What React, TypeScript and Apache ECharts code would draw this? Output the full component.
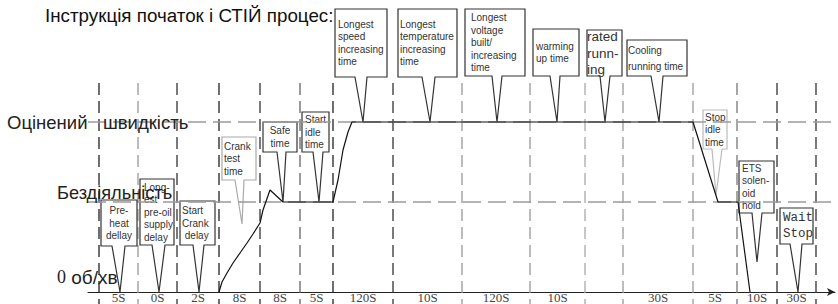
import React, { useEffect, useRef } from "react";
import * as echarts from "echarts";

// ---- data (diagram units: x = position along the time line, y = speed level) ----
const IDLE = 45;
const RATED = 85;

const boundaries = [11, 50, 89, 131, 172, 212, 245, 305, 374, 442, 497, 535, 605, 649, 689, 728];
const segmentLabels = ["5S", "0S", "2S", "8S", "8S", "5S", "120S", "10S", "120S", "10S", "", "30S", "5S", "10S", "30S"];

const speedCurve: [number, number][] = [
  [131, 0], [134, 5], [139, 9.5], [145, 14.5], [152, 19.5], [159, 24.5], [165, 29], [172, 34.5],
  [175, 41], [182, 51], [195, IDLE], [245, IDLE], [250, 56], [255, 71], [260, 80], [264, RATED],
  [605, RATED], [630, IDLE], [650, IDLE], [662, 0],
];

const calloutTexts = [
  "Pre-\nheat\ndellay",
  "Long-\nest\npre-oil\nsupply\ndelay",
  "Start\nCrank\n delay",
  "Crank\ntest\ntime",
  "Safe\ntime",
  "Start\nidle\ntime",
  "Longest\nspeed\nincreasing\ntime",
  "Longest\ntemperature\nincreasing\ntime",
  "Longest\nvoltage\nbuilt/\nincreasing\ntime",
  "warming\nup time",
  "rated\nrunn-\ning",
  "Cooling\nrunning time",
  "Stop\nidle\ntime",
  "ETS\nsolen-\noid\nhold",
  "Wait\nStop",
];
const calloutTips: [number, number][] = [
  [32, 0], [71, 0], [111, 0], [154, 34], [195, IDLE], [231, IDLE],
  [275, RATED], [342, RATED], [409, RATED], [469, RATED], [517, RATED], [571, RATED],
  [628, 48.5], [669, 15], [710, 0],
];

const titleText = "Інструкція початок і СТІЙ процес:";
const ratedLabel = "Оцінений   швидкість";
const idleLabel = "Бездіяльність";
const zeroLabel = "0";
const zeroUnit = " об/хв";

// ---- layout / style (pixels) ----
const GUIDE_TOP = 104.5;
const boundaryColors = ["#222", "#999", "#333", "#222", "#333", "#666", "#222", "#333", "#999", "#999", "#aaa", "#999", "#999", "#777", "#333", "#333"];

type Lay = { bx: number; by: number; w: number; h: number; bl: number; br: number; align: string; pad: number; stroke?: string; fontSize?: number; lh?: number; fontFamily?: string };
const calloutLayout: Lay[] = [
  { bx: -19, by: -92, w: 36, h: 46, bl: -8, br: 5, align: "center", pad: 0 },
  { bx: -19, by: -113, w: 34, h: 66, bl: -7, br: 6, align: "left", pad: 4 },
  { bx: -19, by: -91, w: 35, h: 44, bl: -6, br: 5, align: "left", pad: 2 },
  { bx: -20, by: -87, w: 34, h: 43, bl: -7, br: 2, align: "left", pad: 2, stroke: "#aaa" },
  { bx: -20, by: -80, w: 34, h: 30, bl: -6, br: 3, align: "center", pad: 0 },
  { bx: -17, by: -90, w: 27, h: 40, bl: -6, br: 4, align: "left", pad: 3 },
  { bx: -28, by: -113, w: 52, h: 68, bl: -8, br: 4, align: "left", pad: 3 },
  { bx: -32, by: -113, w: 59, h: 68, bl: -8, br: 5, align: "left", pad: 2 },
  { bx: -32, by: -113, w: 60, h: 67, bl: -5, br: 5, align: "left", pad: 6 },
  { bx: -24, by: -93, w: 46, h: 47, bl: -7, br: 3, align: "left", pad: 3 },
  { bx: -18, by: -92, w: 35, h: 46, bl: -5, br: 5, align: "left", pad: 0, fontSize: 13.5, lh: 16.5 },
  { bx: -32, by: -82, w: 60, h: 36, bl: -8, br: 4, align: "left", pad: 1, lh: 16 },
  { bx: -13, by: -85, w: 24, h: 39, bl: -4, br: 6, align: "left", pad: 2, stroke: "#bbb" },
  { bx: -18, by: -101, w: 35, h: 52, bl: -5, br: 5, align: "left", pad: 3 },
  { bx: -18, by: -84, w: 33, h: 36, bl: -8, br: 4, align: "left", pad: 3, fontFamily: "Liberation Mono", fontSize: 12.5, lh: 16 },
];

export default function App() {
  const ref = useRef<HTMLDivElement>(null);
  useEffect(() => {
    if (!ref.current) return;
    const chart = echarts.init(ref.current, null, { renderer: "svg" });
    const segData = segmentLabels.map((_, i) => [boundaries[i], boundaries[i + 1], i]);
    chart.setOption({
      animation: false,
      backgroundColor: "#fff",
      grid: { left: 88, right: 3, top: 0, bottom: 12, containLabel: false },
      xAxis: {
        type: "value", min: 0, max: 747,
        axisLine: { show: true, symbol: ["none", "arrow"], symbolSize: [6, 8], lineStyle: { color: "#222", width: 1 } },
        axisTick: { show: false }, axisLabel: { show: false }, splitLine: { show: false },
      },
      yAxis: {
        type: "value", min: 0, max: 146, show: false,
        splitLine: { show: false },
      },
      graphic: [
        { type: "text", x: 45, y: 15, z: 100, style: { text: titleText, fontSize: 18.8, fontFamily: "Liberation Sans", fill: "#111", verticalAlign: "middle" } },
        { type: "text", x: 7, y: 122, z: 100, style: { text: ratedLabel, fontSize: 18.5, fontFamily: "Liberation Sans", fill: "#222", verticalAlign: "middle" } },
        { type: "text", x: 57, y: 193, z: 100, style: { text: idleLabel, fontSize: 18.2, fontFamily: "Liberation Sans", fill: "#222", verticalAlign: "middle" } },
        {
          type: "text", x: 57, y: 277, z: 100,
          style: {
            text: "{a|" + zeroLabel + "}{b|" + zeroUnit + "}", verticalAlign: "middle",
            rich: { a: { fontFamily: "Liberation Serif", fontSize: 18, fill: "#222" }, b: { fontFamily: "Liberation Sans", fontSize: 19, fill: "#222" } },
          },
        },
      ],
      series: [
        {
          type: "custom", name: "boundaries", z: 1, silent: true,
          data: boundaries.map((b, i) => [b, i]),
          encode: { x: 0 },
          renderItem: (params: any, api: any) => {
            const i = params.dataIndex;
            const base = api.coord([api.value(0), 0]);
            const top = api.coord([api.value(0), GUIDE_TOP]);
            return {
              type: "line",
              shape: { x1: base[0], y1: top[1], x2: base[0], y2: base[1] + 12 },
              style: { stroke: boundaryColors[i], lineWidth: 1.3, lineDash: [12, 6] },
            };
          },
        },
        {
          type: "custom", name: "segments", z: 2, silent: true,
          data: segData,
          encode: { x: [0, 1] },
          renderItem: (params: any, api: any) => {
            const i = params.dataIndex;
            const a = api.coord([api.value(0), 0]);
            const b = api.coord([api.value(1), 0]);
            return {
              type: "text",
              style: {
                text: segmentLabels[i], x: (a[0] + b[0]) / 2, y: a[1] + 5,
                align: "center", verticalAlign: "middle",
                fontFamily: "Liberation Serif", fontSize: 13, fill: "#444",
              },
            };
          },
        },
        {
          type: "custom", name: "callouts", z: 4, silent: true,
          data: calloutTips.map((t, i) => [t[0], t[1], i]),
          encode: { x: 0, y: 1 },
          renderItem: (params: any, api: any) => {
            const i = params.dataIndex;
            const L = calloutLayout[i];
            const tip = api.coord([api.value(0), api.value(1)]);
            const l = tip[0] + L.bx, t = tip[1] + L.by, r = l + L.w, b = t + L.h;
            const points = [[l, t], [r, t], [r, b], [tip[0] + L.br, b], [tip[0], tip[1]], [tip[0] + L.bl, b], [l, b]];
            return {
              type: "group",
              children: [
                { type: "polygon", shape: { points }, style: { fill: "#fff", stroke: L.stroke || "#333", lineWidth: 1.2 } },
                {
                  type: "text",
                  style: {
                    text: calloutTexts[i],
                    x: L.align === "center" ? (l + r) / 2 : l + L.pad,
                    y: (t + b) / 2,
                    align: L.align, verticalAlign: "middle",
                    fontFamily: L.fontFamily || "Liberation Sans",
                    fontSize: L.fontSize || 10,
                    lineHeight: L.lh || 12.5,
                    fill: "#333",
                  },
                },
              ],
            };
          },
        },
        {
          type: "line", name: "speed", z: 5, silent: true,
          data: speedCurve, symbol: "none",
          lineStyle: { color: "#111", width: 1.2 },
          markLine: {
            silent: true, symbol: ["none", "none"], label: { show: false },
            lineStyle: { color: "#9a9a9a", width: 1.5, type: [18, 7] },
            data: [{ yAxis: IDLE }, { yAxis: RATED }],
          },
        },
      ],
    });
    return () => chart.dispose();
  }, []);
  return <div ref={ref} style={{ position: "absolute", left: 0, top: 0, width: 838, height: 304 }} />;
}
